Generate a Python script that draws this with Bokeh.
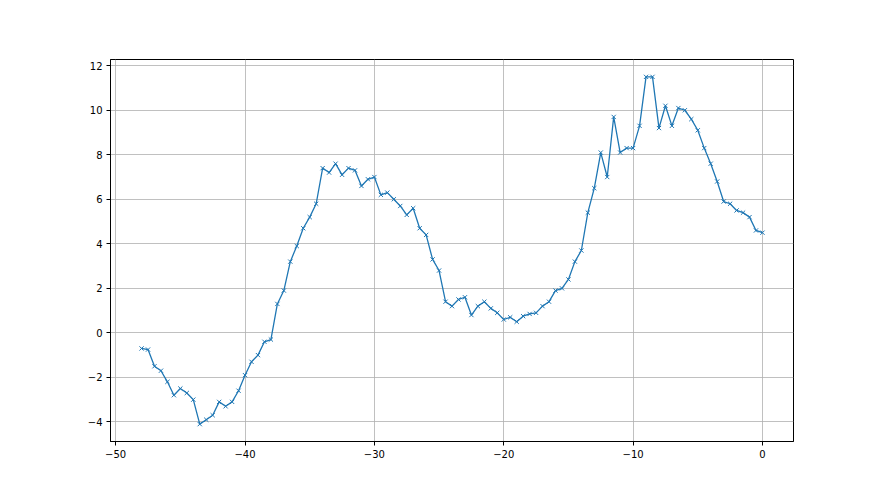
from bokeh.plotting import figure
from bokeh.models import FixedTicker, Range1d
from bokeh.embed import file_html
from bokeh.resources import INLINE

x_vals = [-48 + 0.5 * i for i in range(97)]
y_vals = [-0.7, -0.75, -1.5, -1.7, -2.2, -2.8, -2.5, -2.7, -3.0, -4.1,
          -3.9, -3.7, -3.1, -3.3, -3.1, -2.6, -1.9, -1.3, -1.0, -0.4,
          -0.3, 1.3, 1.9, 3.2, 3.9, 4.7, 5.2, 5.8, 7.4, 7.2,
          7.6, 7.1, 7.4, 7.3, 6.6, 6.9, 7.0, 6.2, 6.3, 6.0,
          5.7, 5.3, 5.6, 4.7, 4.4, 3.3, 2.8, 1.4, 1.2, 1.5,
          1.6, 0.8, 1.2, 1.4, 1.1, 0.9, 0.6, 0.7, 0.5, 0.75,
          0.85, 0.9, 1.2, 1.4, 1.9, 2.0, 2.4, 3.2, 3.7, 5.4,
          6.5, 8.1, 7.0, 9.7, 8.1, 8.3, 8.3, 9.3, 11.5, 11.5,
          9.2, 10.2, 9.3, 10.1, 10.0, 9.6, 9.1, 8.3, 7.6, 6.8,
          5.9, 5.8, 5.5, 5.4, 5.2, 4.6, 4.5]

x_ticks = [-50, -40, -30, -20, -10, 0]
y_ticks = [-4, -2, 0, 2, 4, 6, 8, 10, 12]

p = figure(width=864, height=479, output_backend="svg", toolbar_location=None,
           x_range=Range1d(-50.4, 2.4), y_range=Range1d(-4.88, 12.28),
           min_border_left=110, min_border_right=71, min_border_top=59, min_border_bottom=38)

p.line(x_vals, y_vals, line_color="#1f77b4", line_width=1.3)
p.scatter(x_vals, y_vals, marker="x", size=6, line_color="#1f77b4", line_width=1)

def fmt(v):
    return ("\u2212" + str(abs(v))) if v < 0 else str(v)

for ax, ticks in ((p.xaxis[0], x_ticks), (p.yaxis[0], y_ticks)):
    ax.ticker = FixedTicker(ticks=ticks)
    ax.major_label_overrides = {t: fmt(t) for t in ticks}
    ax.minor_tick_line_color = None
    ax.major_tick_in = 0
    ax.major_tick_out = 4
    ax.major_tick_line_color = "#000000"
    ax.axis_line_color = "#000000"
    ax.major_label_text_font = "DejaVu Sans"
    ax.major_label_text_font_size = "10px"
    ax.major_label_text_color = "#000000"
    ax.major_label_standoff = 4

p.grid.grid_line_color = "#b0b0b0"
p.grid.grid_line_width = 0.8
p.outline_line_color = "#000000"
p.outline_line_width = 1
p.background_fill_color = "white"
p.border_fill_color = "white"

open("out.html", "w").write(file_html(p, INLINE))
